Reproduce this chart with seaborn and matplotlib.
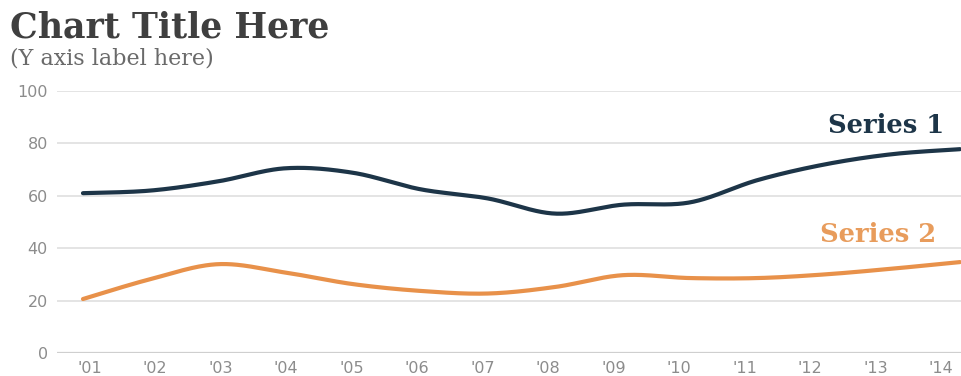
import numpy as np
import matplotlib
matplotlib.use("Agg")
import matplotlib.pyplot as plt
import seaborn as sns

# Chart data
years = ["'01", "'02", "'03", "'04", "'05", "'06", "'07",
         "'08", "'09", "'10", "'11", "'12", "'13", "'14"]
series1 = [61, 62, 65.5, 70.5, 68.8, 62.5, 59, 53.2, 56.6, 57.5, 66, 72, 75.9, 77.8]
series2 = [20.6, 28.2, 33.9, 30.7, 26.3, 23.7, 22.7, 25.2, 29.7, 28.6, 28.6, 30, 32.2, 34.7]
y_ticks = [0, 20, 40, 60, 80, 100]

title = "Chart Title Here"
y_label = "(Y axis label here)"
label1 = "Series 1"
label2 = "Series 2"

navy = "#1d3548"
orange = "#e8914a"
orange_text = "#e89c5c"


def smooth_curve(values, steps=40):
    """Catmull-Rom curve through the points, evaluated densely for a smooth line."""
    v = np.asarray(values, dtype=float)
    x = np.arange(len(v), dtype=float)
    pv = np.r_[v[0], v, v[-1]]
    px = np.r_[x[0], x, x[-1]]
    t = np.linspace(0, 1, steps)
    xs, ys = [], []
    for i in range(len(v) - 1):
        for p, out in ((px, xs), (pv, ys)):
            p0, p1, p2, p3 = p[i], p[i + 1], p[i + 2], p[i + 3]
            seg = 0.5 * (2 * p1 + (-p0 + p2) * t
                         + (2 * p0 - 5 * p1 + 4 * p2 - p3) * t ** 2
                         + (-p0 + 3 * p1 - 3 * p2 + p3) * t ** 3)
            out.append(seg if i == 0 else seg[1:])
    return np.concatenate(xs), np.concatenate(ys)


sns.set_theme(style="white")
plt.rcParams["font.family"] = ["DejaVu Sans"]

W, H = 961, 376
fig = plt.figure(figsize=(W / 100, H / 100), dpi=100)
ax = fig.add_axes([57 / W, 1 - 353 / H, 1 - 57 / W, (353 - 91) / H])

x1, y1 = smooth_curve(series1)
x2, y2 = smooth_curve(series2)
sns.lineplot(x=x2, y=y2, ax=ax, color=orange, linewidth=3.0, sort=False,
             solid_capstyle="round")
sns.lineplot(x=x1, y=y1, ax=ax, color=navy, linewidth=3.0, sort=False,
             solid_capstyle="round")

ax.set_xlim(-0.385, 13.015)
ax.set_ylim(0, 100)
ax.set_yticks(y_ticks)
ax.set_yticklabels([str(v) for v in y_ticks])
ax.set_xticks(np.linspace(0.10, 12.72, len(years)))
ax.set_xticklabels(years)
ax.tick_params(axis="both", length=0, labelsize=11.5, labelcolor="#8c8c8c")
ax.tick_params(axis="y", pad=6.5)
ax.tick_params(axis="x", pad=5.5)

for v in y_ticks:
    ax.axhline(v, color="#cfcfcf" if v == 0 else "#e2e2e2",
               linewidth=1.6 if v == 0 else 1.3, zorder=0)
for s in ax.spines.values():
    s.set_visible(False)
ax.set_xlabel("")
ax.set_ylabel("")

serif = ["DejaVu Serif"]
fig.text(10 / W, 1 - 37 / H, title, family=serif, fontweight="bold",
         fontsize=25, color="#3f3f3f", va="baseline", ha="left")
fig.text(10 / W, 1 - 65 / H, y_label, family=serif, fontsize=16,
         color="#6a6a6a", va="baseline", ha="left")

ax.text(11.04, 84, label1, family=serif, fontweight="bold", fontsize=18.5,
        color=navy, va="baseline", ha="left", clip_on=False)
ax.text(10.92, 42.4, label2, family=serif, fontweight="bold", fontsize=18.5,
        color=orange_text, va="baseline", ha="left", clip_on=False)

fig.savefig("out.png", dpi=100, facecolor="white")
